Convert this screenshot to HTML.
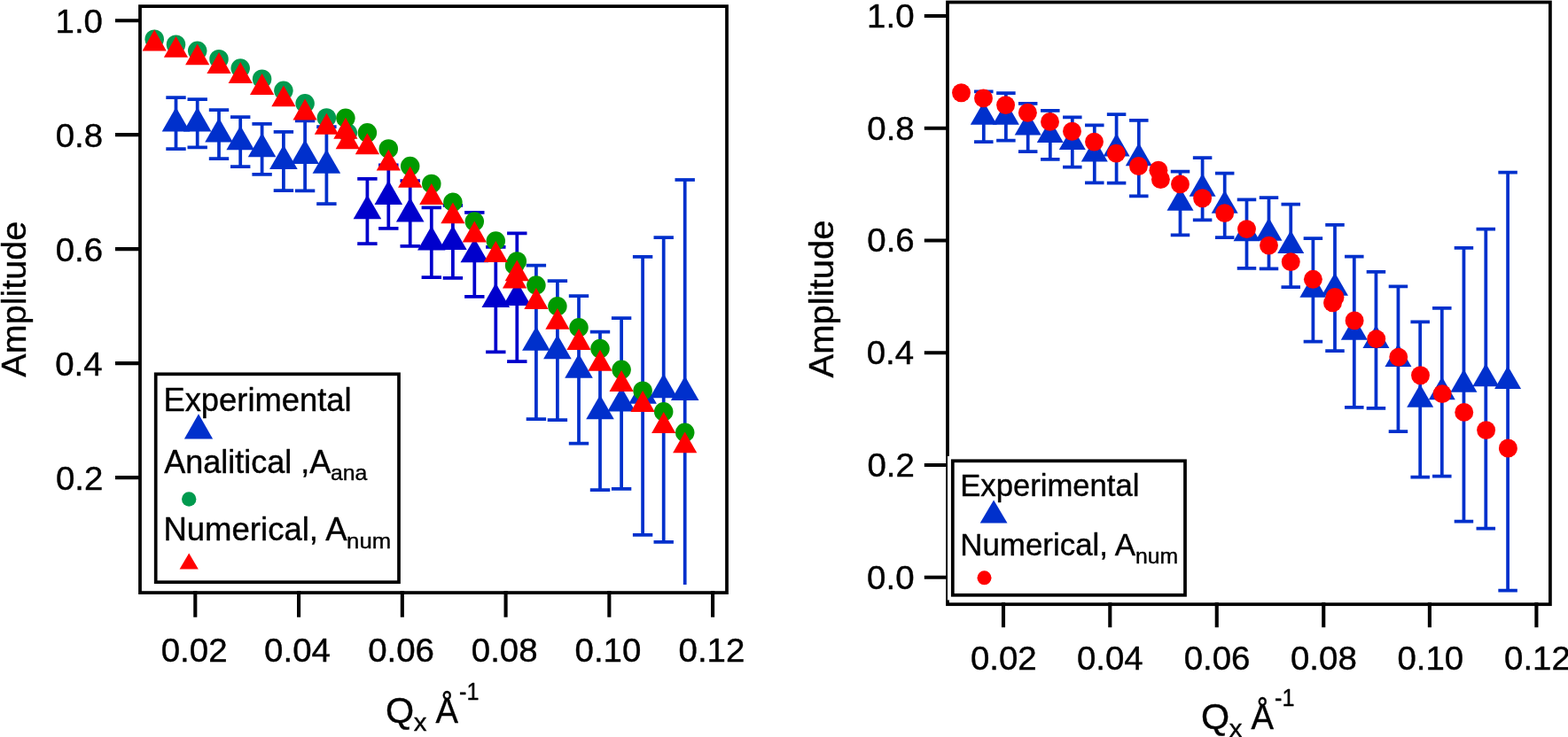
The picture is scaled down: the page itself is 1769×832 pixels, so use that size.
<!DOCTYPE html>
<html lang="en">
<head>
<meta charset="utf-8">
<title>Amplitude vs Qx</title>
<style>
html,body{margin:0;padding:0;background:#fff;}
body{width:1769px;height:832px;}
svg{display:block;}
text{font-family:"Liberation Sans", sans-serif;}
</style>
</head>
<body>
<svg xmlns="http://www.w3.org/2000/svg" width="1769" height="832" viewBox="0 0 1769 832" font-family='"Liberation Sans", sans-serif' fill="#000">
<style>text{stroke:#000;stroke-width:0.4px;stroke-linejoin:round}</style>
<rect width="1769" height="832" fill="#fff"/>
<g id="left">
<g id="left-exp">
<path d="M198.50 110.10V168.00" stroke="#0030cc" stroke-width="3.75" fill="none"/>
<path d="M187.30 110.10H209.70M187.30 168.00H209.70" stroke="#0030cc" stroke-width="3.75" fill="none"/>
<path d="M182.70 148.50L198.50 121.10L214.30 148.50Z" fill="#0030cc"/>
<path d="M222.70 112.00V166.40" stroke="#0030cc" stroke-width="3.75" fill="none"/>
<path d="M211.50 112.00H233.90M211.50 166.40H233.90" stroke="#0030cc" stroke-width="3.75" fill="none"/>
<path d="M206.90 148.50L222.70 121.10L238.50 148.50Z" fill="#0030cc"/>
<path d="M247.00 124.00V179.10" stroke="#0030cc" stroke-width="3.75" fill="none"/>
<path d="M235.80 124.00H258.20M235.80 179.10H258.20" stroke="#0030cc" stroke-width="3.75" fill="none"/>
<path d="M231.20 160.50L247.00 133.10L262.80 160.50Z" fill="#0030cc"/>
<path d="M271.20 132.00V188.00" stroke="#0030cc" stroke-width="3.75" fill="none"/>
<path d="M260.00 132.00H282.40M260.00 188.00H282.40" stroke="#0030cc" stroke-width="3.75" fill="none"/>
<path d="M255.40 169.15L271.20 141.75L287.00 169.15Z" fill="#0030cc"/>
<path d="M295.60 139.75V196.90" stroke="#0030cc" stroke-width="3.75" fill="none"/>
<path d="M284.40 139.75H306.80M284.40 196.90H306.80" stroke="#0030cc" stroke-width="3.75" fill="none"/>
<path d="M279.80 177.30L295.60 149.90L311.40 177.30Z" fill="#0030cc"/>
<path d="M319.90 148.80V215.00" stroke="#0030cc" stroke-width="3.75" fill="none"/>
<path d="M308.70 148.80H331.10M308.70 215.00H331.10" stroke="#0030cc" stroke-width="3.75" fill="none"/>
<path d="M304.10 191.00L319.90 163.60L335.70 191.00Z" fill="#0030cc"/>
<path d="M344.10 136.25V215.25" stroke="#0030cc" stroke-width="3.75" fill="none"/>
<path d="M332.90 136.25H355.30M332.90 215.25H355.30" stroke="#0030cc" stroke-width="3.75" fill="none"/>
<path d="M328.30 185.00L344.10 157.60L359.90 185.00Z" fill="#0030cc"/>
<path d="M368.40 143.10V230.10" stroke="#0030cc" stroke-width="3.75" fill="none"/>
<path d="M357.20 143.10H379.60M357.20 230.10H379.60" stroke="#0030cc" stroke-width="3.75" fill="none"/>
<path d="M352.60 195.80L368.40 168.40L384.20 195.80Z" fill="#0030cc"/>
<path d="M414.40 201.90V275.00" stroke="#0000cc" stroke-width="3.75" fill="none"/>
<path d="M403.20 201.90H425.60M403.20 275.00H425.60" stroke="#0000cc" stroke-width="3.75" fill="none"/>
<path d="M398.60 247.30L414.40 219.90L430.20 247.30Z" fill="#0000cc"/>
<path d="M438.30 186.25V257.75" stroke="#0000cc" stroke-width="3.75" fill="none"/>
<path d="M427.10 186.25H449.50M427.10 257.75H449.50" stroke="#0000cc" stroke-width="3.75" fill="none"/>
<path d="M422.50 231.00L438.30 203.60L454.10 231.00Z" fill="#0000cc"/>
<path d="M462.70 204.10V277.90" stroke="#0000cc" stroke-width="3.75" fill="none"/>
<path d="M451.50 204.10H473.90M451.50 277.90H473.90" stroke="#0000cc" stroke-width="3.75" fill="none"/>
<path d="M446.90 250.40L462.70 223.00L478.50 250.40Z" fill="#0000cc"/>
<path d="M486.80 234.40V313.10" stroke="#0000cc" stroke-width="3.75" fill="none"/>
<path d="M475.60 234.40H498.00M475.60 313.10H498.00" stroke="#0000cc" stroke-width="3.75" fill="none"/>
<path d="M471.00 282.50L486.80 255.10L502.60 282.50Z" fill="#0000cc"/>
<path d="M510.90 231.90V313.75" stroke="#0000cc" stroke-width="3.75" fill="none"/>
<path d="M499.70 231.90H522.10M499.70 313.75H522.10" stroke="#0000cc" stroke-width="3.75" fill="none"/>
<path d="M495.10 281.90L510.90 254.50L526.70 281.90Z" fill="#0000cc"/>
<path d="M535.30 239.75V334.75" stroke="#0000cc" stroke-width="3.75" fill="none"/>
<path d="M524.10 239.75H546.50M524.10 334.75H546.50" stroke="#0000cc" stroke-width="3.75" fill="none"/>
<path d="M519.50 296.30L535.30 268.90L551.10 296.30Z" fill="#0000cc"/>
<path d="M559.30 278.75V397.25" stroke="#0000cc" stroke-width="3.75" fill="none"/>
<path d="M548.10 278.75H570.50M548.10 397.25H570.50" stroke="#0000cc" stroke-width="3.75" fill="none"/>
<path d="M543.50 346.90L559.30 319.50L575.10 346.90Z" fill="#0000cc"/>
<path d="M583.30 263.40V408.10" stroke="#0000cc" stroke-width="3.75" fill="none"/>
<path d="M572.10 263.40H594.50M572.10 408.10H594.50" stroke="#0000cc" stroke-width="3.75" fill="none"/>
<path d="M567.50 345.00L583.30 317.60L599.10 345.00Z" fill="#0000cc"/>
<path d="M604.90 299.60V473.00" stroke="#0030cc" stroke-width="3.75" fill="none"/>
<path d="M593.70 299.60H616.10M593.70 473.00H616.10" stroke="#0030cc" stroke-width="3.75" fill="none"/>
<path d="M589.10 395.80L604.90 368.40L620.70 395.80Z" fill="#0030cc"/>
<path d="M628.90 317.10V474.00" stroke="#0030cc" stroke-width="3.75" fill="none"/>
<path d="M617.70 317.10H640.10M617.70 474.00H640.10" stroke="#0030cc" stroke-width="3.75" fill="none"/>
<path d="M613.10 405.15L628.90 377.75L644.70 405.15Z" fill="#0030cc"/>
<path d="M653.00 334.00V500.60" stroke="#0030cc" stroke-width="3.75" fill="none"/>
<path d="M641.80 334.00H664.20M641.80 500.60H664.20" stroke="#0030cc" stroke-width="3.75" fill="none"/>
<path d="M637.20 426.65L653.00 399.25L668.80 426.65Z" fill="#0030cc"/>
<path d="M677.00 374.60V553.10" stroke="#0030cc" stroke-width="3.75" fill="none"/>
<path d="M665.80 374.60H688.20M665.80 553.10H688.20" stroke="#0030cc" stroke-width="3.75" fill="none"/>
<path d="M661.20 473.15L677.00 445.75L692.80 473.15Z" fill="#0030cc"/>
<path d="M701.10 359.00V551.90" stroke="#0030cc" stroke-width="3.75" fill="none"/>
<path d="M689.90 359.00H712.30M689.90 551.90H712.30" stroke="#0030cc" stroke-width="3.75" fill="none"/>
<path d="M685.30 464.50L701.10 437.10L716.90 464.50Z" fill="#0030cc"/>
<path d="M725.10 289.75V603.75" stroke="#0030cc" stroke-width="3.75" fill="none"/>
<path d="M713.90 289.75H736.30M713.90 603.75H736.30" stroke="#0030cc" stroke-width="3.75" fill="none"/>
<path d="M709.30 455.80L725.10 428.40L740.90 455.80Z" fill="#0030cc"/>
<path d="M748.70 268.00V611.90" stroke="#0030cc" stroke-width="3.75" fill="none"/>
<path d="M737.50 268.00H759.90M737.50 611.90H759.90" stroke="#0030cc" stroke-width="3.75" fill="none"/>
<path d="M732.90 449.15L748.70 421.75L764.50 449.15Z" fill="#0030cc"/>
<path d="M772.70 203.00V660.00" stroke="#0030cc" stroke-width="3.75" fill="none"/>
<path d="M761.50 203.00H783.90" stroke="#0030cc" stroke-width="3.75" fill="none"/>
<path d="M756.90 452.00L772.70 424.60L788.50 452.00Z" fill="#0030cc"/>
</g>
<g id="left-ana">
<circle cx="174.20" cy="44.15" r="10.75" fill="#009a4e"/>
<circle cx="198.50" cy="50.15" r="10.75" fill="#009a4e"/>
<circle cx="222.70" cy="57.35" r="10.75" fill="#009a4e"/>
<circle cx="247.00" cy="66.65" r="10.75" fill="#009a4e"/>
<circle cx="271.20" cy="77.00" r="10.75" fill="#009a4e"/>
<circle cx="295.60" cy="89.15" r="10.75" fill="#009a4e"/>
<circle cx="319.90" cy="102.25" r="10.75" fill="#009a4e"/>
<circle cx="344.10" cy="116.75" r="10.75" fill="#009a4e"/>
<circle cx="368.40" cy="132.90" r="10.75" fill="#009a4e"/>
<circle cx="392.30" cy="150.00" r="10.75" fill="#009a4e"/>
<circle cx="389.90" cy="133.25" r="10.75" fill="#009900"/>
<circle cx="414.40" cy="149.80" r="10.75" fill="#009900"/>
<circle cx="438.30" cy="167.90" r="10.75" fill="#009900"/>
<circle cx="462.70" cy="187.60" r="10.75" fill="#009900"/>
<circle cx="486.80" cy="207.40" r="10.75" fill="#009900"/>
<circle cx="510.90" cy="228.25" r="10.75" fill="#009900"/>
<circle cx="535.30" cy="250.10" r="10.75" fill="#009900"/>
<circle cx="559.30" cy="272.00" r="10.75" fill="#009900"/>
<circle cx="583.30" cy="294.90" r="10.75" fill="#009900"/>
<circle cx="580.60" cy="299.40" r="10.75" fill="#009900"/>
<circle cx="604.90" cy="322.00" r="10.75" fill="#009900"/>
<circle cx="628.90" cy="345.75" r="10.75" fill="#009900"/>
<circle cx="653.00" cy="369.75" r="10.75" fill="#009900"/>
<circle cx="677.00" cy="393.60" r="10.75" fill="#009900"/>
<circle cx="701.10" cy="417.30" r="10.75" fill="#009900"/>
<circle cx="725.10" cy="441.20" r="10.75" fill="#009900"/>
<circle cx="748.70" cy="464.75" r="10.75" fill="#009900"/>
<circle cx="772.70" cy="488.25" r="10.75" fill="#009900"/>
</g>
<g id="left-num">
<path d="M160.60 57.50L174.20 33.60L187.80 57.50Z" fill="#ff0000"/>
<path d="M184.90 64.80L198.50 40.90L212.10 64.80Z" fill="#ff0000"/>
<path d="M209.10 73.30L222.70 49.40L236.30 73.30Z" fill="#ff0000"/>
<path d="M233.40 82.90L247.00 59.00L260.60 82.90Z" fill="#ff0000"/>
<path d="M257.60 93.90L271.20 70.00L284.80 93.90Z" fill="#ff0000"/>
<path d="M282.00 106.90L295.60 83.00L309.20 106.90Z" fill="#ff0000"/>
<path d="M306.30 120.30L319.90 96.40L333.50 120.30Z" fill="#ff0000"/>
<path d="M330.50 135.40L344.10 111.50L357.70 135.40Z" fill="#ff0000"/>
<path d="M354.80 151.65L368.40 127.75L382.00 151.65Z" fill="#ff0000"/>
<path d="M378.70 168.20L392.30 144.30L405.90 168.20Z" fill="#ff0000"/>
<path d="M376.30 156.65L389.90 132.75L403.50 156.65Z" fill="#ff0000"/>
<path d="M400.80 174.15L414.40 150.25L428.00 174.15Z" fill="#ff0000"/>
<path d="M424.70 192.60L438.30 168.70L451.90 192.60Z" fill="#ff0000"/>
<path d="M449.10 211.65L462.70 187.75L476.30 211.65Z" fill="#ff0000"/>
<path d="M473.20 231.00L486.80 207.10L500.40 231.00Z" fill="#ff0000"/>
<path d="M497.30 252.30L510.90 228.40L524.50 252.30Z" fill="#ff0000"/>
<path d="M521.70 273.50L535.30 249.60L548.90 273.50Z" fill="#ff0000"/>
<path d="M545.70 296.00L559.30 272.10L572.90 296.00Z" fill="#ff0000"/>
<path d="M569.70 317.30L583.30 293.40L596.90 317.30Z" fill="#ff0000"/>
<path d="M567.00 325.40L580.60 301.50L594.20 325.40Z" fill="#ff0000"/>
<path d="M591.30 348.90L604.90 325.00L618.50 348.90Z" fill="#ff0000"/>
<path d="M615.30 371.80L628.90 347.90L642.50 371.80Z" fill="#ff0000"/>
<path d="M639.40 395.00L653.00 371.10L666.60 395.00Z" fill="#ff0000"/>
<path d="M663.40 418.65L677.00 394.75L690.60 418.65Z" fill="#ff0000"/>
<path d="M687.50 441.90L701.10 418.00L714.70 441.90Z" fill="#ff0000"/>
<path d="M711.50 465.00L725.10 441.10L738.70 465.00Z" fill="#ff0000"/>
<path d="M735.10 488.90L748.70 465.00L762.30 488.90Z" fill="#ff0000"/>
<path d="M759.10 511.30L772.70 487.40L786.30 511.30Z" fill="#ff0000"/>
</g>
<rect x="158.0" y="7.1" width="662.0" height="662.0" fill="none" stroke="#000" stroke-width="3.75"/>
<path d="M220.30 667.00V696.8M337.06 667.00V696.8M453.82 667.00V696.8M570.58 667.00V696.8M687.34 667.00V696.8M804.10 667.00V696.8M158.00 23.20H130.0M158.00 152.17H130.0M158.00 281.14H130.0M158.00 410.11H130.0M158.00 539.08H130.0" stroke="#000" stroke-width="4.1" fill="none"/>
<g id="left-ticklabels">
<text transform="translate(181.72,746.60) scale(1.0500,1)" font-size="36.6">0.02</text>
<text transform="translate(298.09,746.60) scale(1.0500,1)" font-size="36.6">0.04</text>
<text transform="translate(415.14,746.60) scale(1.0500,1)" font-size="36.6">0.06</text>
<text transform="translate(531.81,746.60) scale(1.0500,1)" font-size="36.6">0.08</text>
<text transform="translate(648.57,746.60) scale(1.0500,1)" font-size="36.6">0.10</text>
<text transform="translate(765.52,746.60) scale(1.0500,1)" font-size="36.6">0.12</text>
<text transform="translate(62.52,36.70) scale(1.0500,1)" font-size="36.6">1.0</text>
<text transform="translate(62.71,165.67) scale(1.0500,1)" font-size="36.6">0.8</text>
<text transform="translate(62.71,294.64) scale(1.0500,1)" font-size="36.6">0.6</text>
<text transform="translate(62.14,423.61) scale(1.0500,1)" font-size="36.6">0.4</text>
<text transform="translate(62.90,552.58) scale(1.0500,1)" font-size="36.6">0.2</text>
</g>
<text transform="translate(29.10,425.70) rotate(-90) scale(1.0001,1)" font-size="39.6">Amplitude</text>
<text><tspan x="435.14" y="815.50" font-size="40.6" textLength="32.14" lengthAdjust="spacingAndGlyphs">Q</tspan><tspan x="466.76" y="824.75" font-size="28.0" textLength="14.73" lengthAdjust="spacingAndGlyphs">x</tspan><tspan font-size="10"> </tspan><tspan x="491.41" y="815.80" font-size="41.5" textLength="25.47" lengthAdjust="spacingAndGlyphs">Å</tspan><tspan x="518.07" y="789.90" font-size="28.5" textLength="22.37" lengthAdjust="spacingAndGlyphs">-1</tspan></text>
<rect x="175.7" y="422.3" width="274.30" height="234.90" fill="#fff" stroke="#000" stroke-width="3.7"/>
<text transform="translate(184.39,463.80) scale(0.9940,1)" font-size="36.6">Experimental</text>
<path d="M207.90 495.60L224.00 467.20L240.10 495.60Z" fill="#0030cc"/>
<text><tspan x="185.32" y="533.70" font-size="36.6" textLength="188.05" lengthAdjust="spacingAndGlyphs">Analitical ,A</tspan><tspan x="372.99" y="541.60" font-size="24.0" textLength="41.28" lengthAdjust="spacingAndGlyphs">ana</tspan></text>
<circle cx="213.20" cy="563.50" r="8.20" fill="#009a4e"/>
<text><tspan x="184.38" y="609.50" font-size="36.6" textLength="207.15" lengthAdjust="spacingAndGlyphs">Numerical, A</tspan><tspan x="391.13" y="618.80" font-size="24.0" textLength="49.95" lengthAdjust="spacingAndGlyphs">num</tspan></text>
<path d="M202.60 642.40L213.20 624.40L223.80 642.40Z" fill="#ff0000"/>
</g>
<g id="right">
<g id="right-exp">
<path d="M1109.80 103.31V160.22" stroke="#0030cc" stroke-width="3.75" fill="none"/>
<path d="M1099.05 103.31H1120.55M1099.05 160.22H1120.55" stroke="#0030cc" stroke-width="3.75" fill="none"/>
<path d="M1094.80 140.65L1109.80 114.65L1124.80 140.65Z" fill="#0030cc"/>
<path d="M1134.90 105.18V158.65" stroke="#0030cc" stroke-width="3.75" fill="none"/>
<path d="M1124.15 105.18H1145.65M1124.15 158.65H1145.65" stroke="#0030cc" stroke-width="3.75" fill="none"/>
<path d="M1119.90 140.65L1134.90 114.65L1149.90 140.65Z" fill="#0030cc"/>
<path d="M1159.70 116.97V171.13" stroke="#0030cc" stroke-width="3.75" fill="none"/>
<path d="M1148.95 116.97H1170.45M1148.95 171.13H1170.45" stroke="#0030cc" stroke-width="3.75" fill="none"/>
<path d="M1144.70 152.44L1159.70 126.44L1174.70 152.44Z" fill="#0030cc"/>
<path d="M1184.80 124.84V179.88" stroke="#0030cc" stroke-width="3.75" fill="none"/>
<path d="M1174.05 124.84H1195.55M1174.05 179.88H1195.55" stroke="#0030cc" stroke-width="3.75" fill="none"/>
<path d="M1169.80 160.95L1184.80 134.95L1199.80 160.95Z" fill="#0030cc"/>
<path d="M1209.80 132.45V188.62" stroke="#0030cc" stroke-width="3.75" fill="none"/>
<path d="M1199.05 132.45H1220.55M1199.05 188.62H1220.55" stroke="#0030cc" stroke-width="3.75" fill="none"/>
<path d="M1194.80 168.96L1209.80 142.96L1224.80 168.96Z" fill="#0030cc"/>
<path d="M1234.80 141.35V206.41" stroke="#0030cc" stroke-width="3.75" fill="none"/>
<path d="M1224.05 141.35H1245.55M1224.05 206.41H1245.55" stroke="#0030cc" stroke-width="3.75" fill="none"/>
<path d="M1219.80 182.42L1234.80 156.42L1249.80 182.42Z" fill="#0030cc"/>
<path d="M1259.60 129.01V206.66" stroke="#0030cc" stroke-width="3.75" fill="none"/>
<path d="M1248.85 129.01H1270.35M1248.85 206.66H1270.35" stroke="#0030cc" stroke-width="3.75" fill="none"/>
<path d="M1244.60 176.53L1259.60 150.53L1274.60 176.53Z" fill="#0030cc"/>
<path d="M1284.80 135.75V221.26" stroke="#0030cc" stroke-width="3.75" fill="none"/>
<path d="M1274.05 135.75H1295.55M1274.05 221.26H1295.55" stroke="#0030cc" stroke-width="3.75" fill="none"/>
<path d="M1269.80 187.14L1284.80 161.14L1299.80 187.14Z" fill="#0030cc"/>
<path d="M1331.50 193.54V265.39" stroke="#0030cc" stroke-width="3.75" fill="none"/>
<path d="M1320.75 193.54H1342.25M1320.75 265.39H1342.25" stroke="#0030cc" stroke-width="3.75" fill="none"/>
<path d="M1316.50 237.76L1331.50 211.76L1346.50 237.76Z" fill="#0030cc"/>
<path d="M1356.60 178.16V248.43" stroke="#0030cc" stroke-width="3.75" fill="none"/>
<path d="M1345.85 178.16H1367.35M1345.85 248.43H1367.35" stroke="#0030cc" stroke-width="3.75" fill="none"/>
<path d="M1341.60 221.74L1356.60 195.74L1371.60 221.74Z" fill="#0030cc"/>
<path d="M1381.70 195.70V268.24" stroke="#0030cc" stroke-width="3.75" fill="none"/>
<path d="M1370.95 195.70H1392.45M1370.95 268.24H1392.45" stroke="#0030cc" stroke-width="3.75" fill="none"/>
<path d="M1366.70 240.80L1381.70 214.80L1396.70 240.80Z" fill="#0030cc"/>
<path d="M1406.50 225.48V302.83" stroke="#0030cc" stroke-width="3.75" fill="none"/>
<path d="M1395.75 225.48H1417.25M1395.75 302.83H1417.25" stroke="#0030cc" stroke-width="3.75" fill="none"/>
<path d="M1391.50 272.35L1406.50 246.35L1421.50 272.35Z" fill="#0030cc"/>
<path d="M1431.50 223.02V303.47" stroke="#0030cc" stroke-width="3.75" fill="none"/>
<path d="M1420.75 223.02H1442.25M1420.75 303.47H1442.25" stroke="#0030cc" stroke-width="3.75" fill="none"/>
<path d="M1416.50 271.77L1431.50 245.77L1446.50 271.77Z" fill="#0030cc"/>
<path d="M1456.25 230.74V324.11" stroke="#0030cc" stroke-width="3.75" fill="none"/>
<path d="M1445.50 230.74H1467.00M1445.50 324.11H1467.00" stroke="#0030cc" stroke-width="3.75" fill="none"/>
<path d="M1441.25 285.92L1456.25 259.92L1471.25 285.92Z" fill="#0030cc"/>
<path d="M1481.40 269.07V385.54" stroke="#0030cc" stroke-width="3.75" fill="none"/>
<path d="M1470.65 269.07H1492.15M1470.65 385.54H1492.15" stroke="#0030cc" stroke-width="3.75" fill="none"/>
<path d="M1466.40 335.65L1481.40 309.65L1496.40 335.65Z" fill="#0030cc"/>
<path d="M1506.00 253.99V396.21" stroke="#0030cc" stroke-width="3.75" fill="none"/>
<path d="M1495.25 253.99H1516.75M1495.25 396.21H1516.75" stroke="#0030cc" stroke-width="3.75" fill="none"/>
<path d="M1491.00 333.78L1506.00 307.78L1521.00 333.78Z" fill="#0030cc"/>
<path d="M1527.80 289.57V459.99" stroke="#0030cc" stroke-width="3.75" fill="none"/>
<path d="M1517.05 289.57H1538.55M1517.05 459.99H1538.55" stroke="#0030cc" stroke-width="3.75" fill="none"/>
<path d="M1512.80 383.71L1527.80 357.71L1542.80 383.71Z" fill="#0030cc"/>
<path d="M1552.45 306.77V460.98" stroke="#0030cc" stroke-width="3.75" fill="none"/>
<path d="M1541.70 306.77H1563.20M1541.70 460.98H1563.20" stroke="#0030cc" stroke-width="3.75" fill="none"/>
<path d="M1537.45 392.90L1552.45 366.90L1567.45 392.90Z" fill="#0030cc"/>
<path d="M1577.45 323.38V487.12" stroke="#0030cc" stroke-width="3.75" fill="none"/>
<path d="M1566.70 323.38H1588.20M1566.70 487.12H1588.20" stroke="#0030cc" stroke-width="3.75" fill="none"/>
<path d="M1562.45 414.04L1577.45 388.04L1592.45 414.04Z" fill="#0030cc"/>
<path d="M1602.20 363.28V538.72" stroke="#0030cc" stroke-width="3.75" fill="none"/>
<path d="M1591.45 363.28H1612.95M1591.45 538.72H1612.95" stroke="#0030cc" stroke-width="3.75" fill="none"/>
<path d="M1587.20 459.74L1602.20 433.74L1617.20 459.74Z" fill="#0030cc"/>
<path d="M1626.80 347.95V537.54" stroke="#0030cc" stroke-width="3.75" fill="none"/>
<path d="M1616.05 347.95H1637.55M1616.05 537.54H1637.55" stroke="#0030cc" stroke-width="3.75" fill="none"/>
<path d="M1611.80 451.24L1626.80 425.24L1641.80 451.24Z" fill="#0030cc"/>
<path d="M1651.45 279.88V588.51" stroke="#0030cc" stroke-width="3.75" fill="none"/>
<path d="M1640.70 279.88H1662.20M1640.70 588.51H1662.20" stroke="#0030cc" stroke-width="3.75" fill="none"/>
<path d="M1636.45 442.69L1651.45 416.69L1666.45 442.69Z" fill="#0030cc"/>
<path d="M1676.30 258.51V596.52" stroke="#0030cc" stroke-width="3.75" fill="none"/>
<path d="M1665.55 258.51H1687.05M1665.55 596.52H1687.05" stroke="#0030cc" stroke-width="3.75" fill="none"/>
<path d="M1661.30 436.15L1676.30 410.15L1691.30 436.15Z" fill="#0030cc"/>
<path d="M1701.10 194.62V666.59" stroke="#0030cc" stroke-width="3.75" fill="none"/>
<path d="M1690.35 194.62H1711.85M1690.35 666.59H1711.85" stroke="#0030cc" stroke-width="3.75" fill="none"/>
<path d="M1686.10 438.95L1701.10 412.95L1716.10 438.95Z" fill="#0030cc"/>
</g>
<g id="right-num">
<circle cx="1084.50" cy="104.75" r="10.45" fill="#ff0000"/>
<circle cx="1109.50" cy="110.90" r="10.45" fill="#ff0000"/>
<circle cx="1134.60" cy="118.60" r="10.45" fill="#ff0000"/>
<circle cx="1159.40" cy="127.25" r="10.45" fill="#ff0000"/>
<circle cx="1184.50" cy="137.40" r="10.45" fill="#ff0000"/>
<circle cx="1209.50" cy="148.25" r="10.45" fill="#ff0000"/>
<circle cx="1234.50" cy="160.10" r="10.45" fill="#ff0000"/>
<circle cx="1259.30" cy="173.10" r="10.45" fill="#ff0000"/>
<circle cx="1284.50" cy="187.50" r="10.45" fill="#ff0000"/>
<circle cx="1309.40" cy="202.50" r="10.45" fill="#ff0000"/>
<circle cx="1306.90" cy="192.25" r="10.45" fill="#ff0000"/>
<circle cx="1331.50" cy="207.90" r="10.45" fill="#ff0000"/>
<circle cx="1356.60" cy="223.75" r="10.45" fill="#ff0000"/>
<circle cx="1381.70" cy="240.60" r="10.45" fill="#ff0000"/>
<circle cx="1406.50" cy="258.60" r="10.45" fill="#ff0000"/>
<circle cx="1431.50" cy="277.10" r="10.45" fill="#ff0000"/>
<circle cx="1456.25" cy="295.60" r="10.45" fill="#ff0000"/>
<circle cx="1481.40" cy="315.30" r="10.45" fill="#ff0000"/>
<circle cx="1506.00" cy="335.40" r="10.45" fill="#ff0000"/>
<circle cx="1503.50" cy="341.90" r="10.45" fill="#ff0000"/>
<circle cx="1528.10" cy="361.90" r="10.45" fill="#ff0000"/>
<circle cx="1552.75" cy="382.60" r="10.45" fill="#ff0000"/>
<circle cx="1577.75" cy="403.10" r="10.45" fill="#ff0000"/>
<circle cx="1602.50" cy="423.75" r="10.45" fill="#ff0000"/>
<circle cx="1627.10" cy="444.60" r="10.45" fill="#ff0000"/>
<circle cx="1651.75" cy="465.40" r="10.45" fill="#ff0000"/>
<circle cx="1676.60" cy="485.60" r="10.45" fill="#ff0000"/>
<circle cx="1701.40" cy="506.00" r="10.45" fill="#ff0000"/>
</g>
<rect x="1069.0" y="2.5" width="679.90" height="679.70" fill="none" stroke="#000" stroke-width="3.75"/>
<path d="M1132.00 680.10V708.3M1252.30 680.10V708.3M1372.75 680.10V708.3M1493.25 680.10V708.3M1612.90 680.10V708.3M1733.40 680.10V708.3M1069.00 17.95H1042.8M1069.00 144.71H1042.8M1069.00 271.47H1042.8M1069.00 398.23H1042.8M1069.00 524.99H1042.8M1069.00 651.75H1042.8" stroke="#000" stroke-width="4.1" fill="none"/>
<g id="right-ticklabels">
<text transform="translate(1094.92,756.00) scale(1.0500,1)" font-size="36.6">0.02</text>
<text transform="translate(1214.95,756.00) scale(1.0500,1)" font-size="36.6">0.04</text>
<text transform="translate(1335.66,756.00) scale(1.0500,1)" font-size="36.6">0.06</text>
<text transform="translate(1455.99,756.00) scale(1.0500,1)" font-size="36.6">0.08</text>
<text transform="translate(1576.41,756.00) scale(1.0500,1)" font-size="36.6">0.10</text>
<text transform="translate(1697.02,756.00) scale(1.0500,1)" font-size="36.6">0.12</text>
<text transform="translate(978.12,30.85) scale(1.0500,1)" font-size="36.6">1.0</text>
<text transform="translate(978.31,157.61) scale(1.0500,1)" font-size="36.6">0.8</text>
<text transform="translate(978.31,284.37) scale(1.0500,1)" font-size="36.6">0.6</text>
<text transform="translate(977.74,411.13) scale(1.0500,1)" font-size="36.6">0.4</text>
<text transform="translate(978.50,537.89) scale(1.0500,1)" font-size="36.6">0.2</text>
<text transform="translate(978.12,664.65) scale(1.0500,1)" font-size="36.6">0.0</text>
</g>
<text transform="translate(940.00,426.45) rotate(-90) scale(1.0101,1)" font-size="39.6">Amplitude</text>
<text><tspan x="1355.14" y="822.60" font-size="40.6" textLength="32.14" lengthAdjust="spacingAndGlyphs">Q</tspan><tspan x="1386.76" y="831.85" font-size="28.0" textLength="14.73" lengthAdjust="spacingAndGlyphs">x</tspan><tspan font-size="10"> </tspan><tspan x="1411.41" y="822.90" font-size="41.5" textLength="25.47" lengthAdjust="spacingAndGlyphs">Å</tspan><tspan x="1438.07" y="797.00" font-size="28.5" textLength="22.37" lengthAdjust="spacingAndGlyphs">-1</tspan></text>
<rect x="1069.05" y="514.9" width="273.55" height="162.50" fill="#fff"/>
<rect x="1074.8" y="520.3" width="262.20" height="151.50" fill="#fff" stroke="#000" stroke-width="3.75"/>
<text transform="translate(1083.23,559.80) scale(0.9823,1)" font-size="35.3">Experimental</text>
<path d="M1105.70 590.60L1121.10 564.60L1136.50 590.60Z" fill="#0030cc"/>
<text><tspan x="1083.21" y="626.70" font-size="35.3" textLength="197.91" lengthAdjust="spacingAndGlyphs">Numerical, A</tspan><tspan x="1280.99" y="635.80" font-size="23.6" textLength="48.23" lengthAdjust="spacingAndGlyphs">num</tspan></text>
<circle cx="1110.50" cy="652.30" r="8.00" fill="#ff0000"/>
</g>
</svg>
</body>
</html>
